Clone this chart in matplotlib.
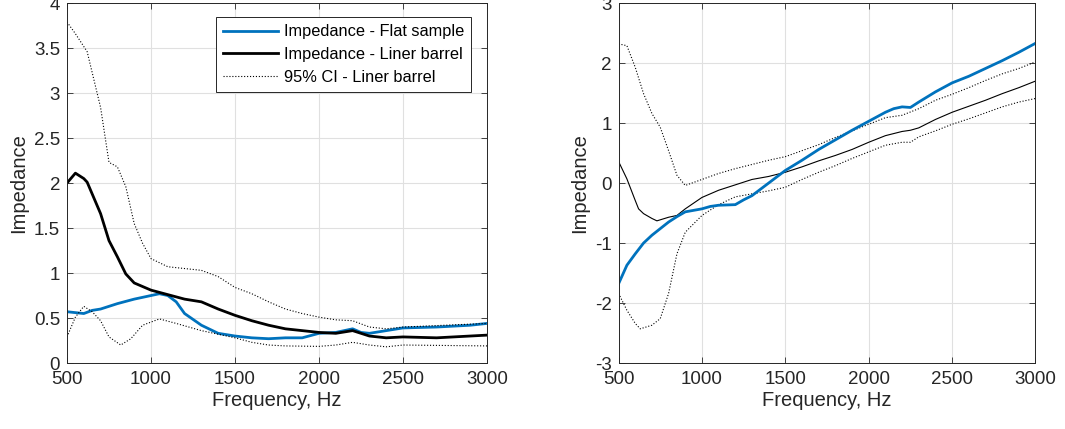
import matplotlib.pyplot as plt
import numpy as np

plt.rcParams['font.family'] = ['Liberation Sans', 'DejaVu Sans']

# --- left panel: impedance (real part) ---
f_flat_l = [500, 600, 650, 700, 800, 900, 1000, 1050, 1100, 1150, 1200, 1300, 1400, 1500,
            1600, 1700, 1800, 1900, 2000, 2100, 2200, 2250, 2300, 2400, 2500, 2700, 2900, 3000]
z_flat_l = [0.57, 0.55, 0.585, 0.60, 0.66, 0.71, 0.75, 0.77, 0.75, 0.68, 0.55, 0.42, 0.33, 0.30,
            0.28, 0.27, 0.28, 0.28, 0.33, 0.34, 0.38, 0.34, 0.33, 0.36, 0.39, 0.40, 0.42, 0.44]

f_lin_l = [500, 550, 600, 620, 700, 750, 800, 850, 900, 1000, 1100, 1200, 1300, 1400, 1500,
           1600, 1700, 1800, 1900, 2000, 2100, 2200, 2250, 2300, 2400, 2500, 2700, 3000]
z_lin_l = [2.0, 2.11, 2.05, 2.01, 1.66, 1.36, 1.18, 0.99, 0.89, 0.81, 0.76, 0.71, 0.68, 0.60, 0.53,
           0.47, 0.42, 0.38, 0.36, 0.34, 0.33, 0.36, 0.33, 0.30, 0.28, 0.29, 0.28, 0.31]

f_up_l = [500, 550, 620, 700, 750, 800, 850, 900, 950, 1000, 1100, 1200, 1300, 1400, 1500,
          1600, 1700, 1800, 1900, 2000, 2100, 2200, 2300, 2400, 2500, 3000]
z_up_l = [3.79, 3.66, 3.46, 2.84, 2.23, 2.18, 1.96, 1.55, 1.33, 1.16, 1.07, 1.05, 1.03, 0.96, 0.84,
          0.77, 0.68, 0.60, 0.55, 0.51, 0.48, 0.47, 0.40, 0.38, 0.40, 0.44]

f_lo_l = [500, 550, 600, 650, 700, 750, 820, 880, 950, 1050, 1150, 1300, 1400, 1500, 1600,
          1700, 1800, 2000, 2100, 2200, 2300, 2400, 2500, 3000]
z_lo_l = [0.29, 0.51, 0.63, 0.57, 0.47, 0.29, 0.20, 0.27, 0.42, 0.49, 0.44, 0.36, 0.32, 0.28, 0.23,
          0.20, 0.19, 0.185, 0.20, 0.23, 0.20, 0.18, 0.20, 0.19]

# --- right panel: impedance (imaginary part) ---
f_flat_r = [500, 550, 600, 650, 700, 750, 800, 850, 900, 1000, 1050, 1100, 1200, 1250, 1300,
            1400, 1500, 1600, 1700, 1800, 1900, 2000, 2100, 2150, 2200, 2250, 2300, 2400,
            2500, 2600, 2700, 2800, 2900, 3000]
z_flat_r = [-1.68, -1.37, -1.18, -1.0, -0.87, -0.76, -0.65, -0.56, -0.48, -0.43, -0.39, -0.37,
            -0.36, -0.28, -0.21, 0.0, 0.21, 0.38, 0.56, 0.72, 0.88, 1.03, 1.18, 1.24, 1.27, 1.26,
            1.35, 1.52, 1.67, 1.78, 1.91, 2.04, 2.18, 2.33]

f_lin_r = [500, 550, 600, 620, 650, 700, 730, 800, 850, 900, 1000, 1100, 1200, 1300, 1400, 1500,
           1600, 1700, 1800, 1900, 2000, 2100, 2200, 2250, 2300, 2400, 2500, 2600, 2700, 2800,
           2900, 3000]
z_lin_r = [0.36, 0.07, -0.29, -0.43, -0.51, -0.59, -0.63, -0.57, -0.54, -0.43, -0.24, -0.12,
           -0.03, 0.06, 0.11, 0.18, 0.27, 0.37, 0.46, 0.56, 0.68, 0.79, 0.86, 0.88, 0.92, 1.06,
           1.18, 1.28, 1.38, 1.49, 1.59, 1.70]

f_up_r = [500, 550, 600, 650, 700, 750, 800, 850, 900, 1000, 1100, 1200, 1400, 1500, 1600, 1700,
          1800, 1900, 2000, 2100, 2200, 2300, 2400, 2500, 2600, 2700, 2800, 2900, 3000]
z_up_r = [2.32, 2.29, 1.93, 1.49, 1.16, 0.93, 0.54, 0.13, -0.04, 0.06, 0.16, 0.24, 0.38, 0.44,
          0.54, 0.64, 0.76, 0.87, 0.98, 1.09, 1.13, 1.24, 1.38, 1.48, 1.59, 1.71, 1.82, 1.91, 2.02]

f_lo_r = [500, 550, 600, 630, 700, 750, 800, 850, 900, 1000, 1100, 1200, 1300, 1400, 1500, 1600,
          1700, 1800, 1900, 2000, 2100, 2200, 2250, 2300, 2400, 2500, 2600, 2700, 2800, 2900, 3000]
z_lo_r = [-1.84, -2.12, -2.34, -2.43, -2.37, -2.26, -1.84, -1.18, -0.82, -0.54, -0.36, -0.23,
          -0.18, -0.13, -0.07, 0.06, 0.18, 0.29, 0.41, 0.52, 0.63, 0.68, 0.68, 0.77, 0.87, 0.98,
          1.07, 1.17, 1.27, 1.35, 1.41]

blue = '#0072BD'
axcol = '#262626'

fig = plt.figure(figsize=(10.65, 4.29), dpi=100)
ax1 = fig.add_axes([0.0629, 0.1538, 0.3944, 0.839])
ax2 = fig.add_axes([0.5808, 0.1538, 0.3915, 0.839])


def style(ax, ylim, yticks, yticklabels):
    ax.set_xlim(500, 3000)
    ax.set_ylim(*ylim)
    ax.set_xticks(np.arange(500, 3001, 500))
    ax.set_yticks(yticks)
    ax.set_yticklabels(yticklabels)
    ax.grid(True, color='#e0e0e0', linewidth=0.8)
    ax.set_axisbelow(True)
    ax.tick_params(direction='in', top=True, right=True, labelsize=13.5,
                   colors=axcol, length=4, width=0.6)
    ax.tick_params(axis='x', pad=6)
    ax.tick_params(axis='y', pad=5)
    for s in ax.spines.values():
        s.set_color(axcol)
        s.set_linewidth(0.7)
    ax.set_xlabel('Frequency, Hz', fontsize=14.5, color=axcol, labelpad=2)
    ax.set_ylabel('Impedance', fontsize=14.5, color=axcol, labelpad=4)


ax1.plot(f_flat_l, z_flat_l, color=blue, lw=2, label='Impedance - Flat sample')
ax1.plot(f_lin_l, z_lin_l, color='black', lw=2, label='Impedance - Liner barrel')
ax1.plot(f_up_l, z_up_l, color='black', lw=0.8, ls=':', label='95% CI - Liner barrel')
ax1.plot(f_lo_l, z_lo_l, color='black', lw=0.8, ls=':')
style(ax1, (0, 4), np.arange(0, 4.01, 0.5), ['0', '0.5', '1', '1.5', '2', '2.5', '3', '3.5', '4'])
leg = ax1.legend(loc='upper right', bbox_to_anchor=(0.961, 0.96), fontsize=11.8,
                 fancybox=False, framealpha=1, edgecolor=axcol, borderpad=0.42,
                 labelspacing=0.47, handlelength=3.35, handletextpad=0.35,
                 borderaxespad=0)
leg.get_frame().set_linewidth(0.7)

ax2.plot(f_up_r, z_up_r, color='black', lw=0.8, ls=':')
ax2.plot(f_lo_r, z_lo_r, color='black', lw=0.8, ls=':')
ax2.plot(f_lin_r, z_lin_r, color='black', lw=0.8)
ax2.plot(f_flat_r, z_flat_r, color=blue, lw=2)
style(ax2, (-3, 3), np.arange(-3, 3.01, 1), ['-3', '-2', '-1', '0', '1', '2', '3'])

fig.savefig('out.png', dpi=100)
